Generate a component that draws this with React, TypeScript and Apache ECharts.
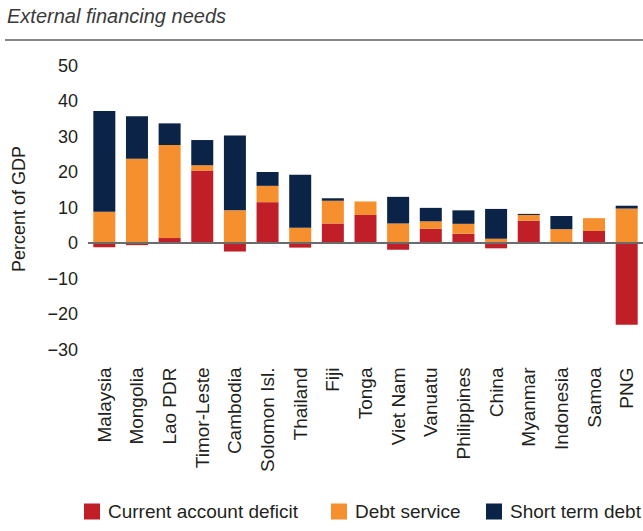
import React, { useEffect, useRef } from "react";
import * as echarts from "echarts";

const categories = [
  "Malaysia", "Mongolia", "Lao PDR", "Timor-Leste", "Cambodia", "Solomon Isl.",
  "Thailand", "Fiji", "Tonga", "Viet Nam", "Vanuatu", "Philippines", "China",
  "Myanmar", "Indonesia", "Samoa", "PNG",
];
const currentAccountDeficit = [-1.2, -0.6, 1.4, 20.4, -2.4, 11.5, -1.3, 5.5, 7.9, -1.9, 4.0, 2.6, -1.5, 6.3, 0, 3.4, -23.0];
const debtService = [8.8, 23.7, 26.2, 1.5, 9.2, 4.6, 4.3, 6.4, 3.8, 5.5, 2.1, 2.8, 1.2, 1.6, 3.9, 3.6, 9.7];
const shortTermDebt = [28.4, 12.0, 6.1, 7.1, 21.1, 3.9, 14.9, 0.7, 0, 7.5, 3.8, 3.8, 8.4, 0.3, 3.7, 0, 0.8];
const seriesNames = ["Current account deficit", "Debt service", "Short term debt"];
const colors = ["#C01F28", "#F68F2D", "#0B2346"];
const titleText = "External financing needs";
const yAxisTitle = "Percent of GDP";

const FONT = "'Liberation Sans', Arial, sans-serif";
const legendLefts = [84, 331, 486];

export default function App() {
  const ref = useRef<HTMLDivElement>(null);
  useEffect(() => {
    if (!ref.current) return;
    const chart = echarts.init(ref.current, null, { renderer: "svg" });
    const data = [currentAccountDeficit, debtService, shortTermDebt];
    chart.setOption({
      animation: false,
      textStyle: { fontFamily: FONT },
      grid: { left: 88, top: 65.5, width: 557, height: 284, containLabel: false },
      legend: seriesNames.map((name, i) => ({
        left: legendLefts[i],
        top: 502,
        padding: 0,
        itemWidth: 16,
        itemHeight: 16,
        icon: "rect",
        textStyle: { fontSize: 19, color: "#231F20", fontFamily: FONT, padding: [0, 0, 0, 3] },
        data: [name],
      })),
      xAxis: {
        type: "category",
        data: categories,
        position: "bottom",
        axisLine: { show: false, onZero: false },
        axisTick: { show: false },
        axisLabel: {
          rotate: 90,
          margin: 18,
          fontSize: 19,
          color: "#231F20",
          fontFamily: FONT,
          interval: 0,
        },
      },
      yAxis: {
        type: "value",
        min: -30,
        max: 50,
        interval: 10,
        axisLine: { show: false },
        axisTick: { show: false },
        splitLine: { show: false },
        axisLabel: {
          margin: 10,
          fontSize: 18,
          color: "#231F20",
          fontFamily: FONT,
          formatter: (v: number) => (v < 0 ? "\u2212" + Math.abs(v) : String(v)),
        },
      },
      series: seriesNames.map((name, i) => ({
        name,
        type: "bar",
        stack: "total",
        barWidth: 22,
        itemStyle: { color: colors[i] },
        data: data[i],
        ...(i === 0
          ? {
              markLine: {
                silent: true,
                symbol: ["none", "none"],
                label: { show: false },
                lineStyle: { color: "#6B6B6B", width: 2, type: "solid" },
                data: [{ yAxis: 0 }],
                z: 10,
              },
            }
          : {}),
      })),
      graphic: [
        {
          type: "text",
          left: 7,
          top: 6,
          style: {
            text: titleText,
            fontSize: 20,
            fontStyle: "italic",
            fill: "#3A3A3A",
            fontFamily: FONT,
          },
        },
        {
          type: "line",
          shape: { x1: 5, y1: 40, x2: 643, y2: 40 },
          style: { stroke: "#5E5E5E", lineWidth: 1.5 },
        },
        {
          type: "text",
          x: 19,
          y: 209,
          rotation: Math.PI / 2,
          style: {
            text: yAxisTitle,
            fontSize: 18,
            fill: "#231F20",
            fontFamily: FONT,
            textAlign: "center",
            textVerticalAlign: "middle",
          },
        },
      ],
    });
    return () => chart.dispose();
  }, []);
  return (
    <div
      ref={ref}
      style={{ position: "absolute", left: 0, top: 0, width: 643, height: 531 }}
    />
  );
}
